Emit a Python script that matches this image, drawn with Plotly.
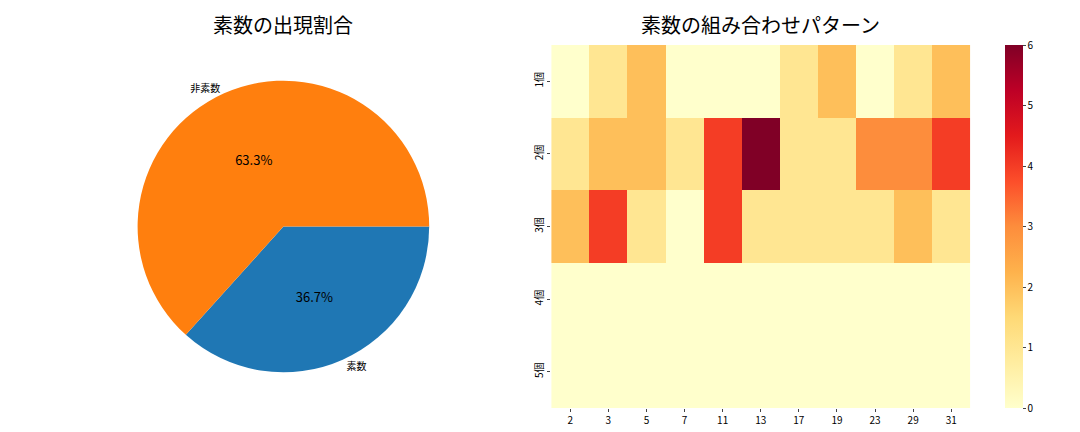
import plotly.graph_objects as go

pie_labels = ["素数", "非素数"]
pie_values = [11, 19]
cols = ["2", "3", "5", "7", "11", "13", "17", "19", "23", "29", "31"]
rows = ["1個", "2個", "3個", "4個", "5個"]
z = [
    [0, 1, 2, 0, 0, 0, 1, 2, 0, 1, 2],
    [1, 2, 2, 1, 4, 6, 1, 1, 3, 3, 4],
    [2, 4, 1, 0, 4, 1, 1, 1, 1, 2, 1],
    [0, 0, 0, 0, 0, 0, 0, 0, 0, 0, 0],
    [0, 0, 0, 0, 0, 0, 0, 0, 0, 0, 0],
]
F = "Noto Sans CJK JP"
colors = ["#1f77b4", "#ff7f0e"]
dom = dict(x=[0.12, 0.39], y=[0.05, 0.95])
fig = go.Figure()
fig.add_trace(go.Pie(labels=pie_labels, values=pie_values, sort=False, direction="clockwise",
                     rotation=90, marker=dict(colors=colors), textinfo="percent", texttemplate="%{percent:.1%}",
                     textposition="inside", insidetextfont=dict(size=13, color="black"),
                     domain=dom, showlegend=False, hoverinfo="skip"))
fig.add_trace(go.Pie(labels=pie_labels, values=pie_values, sort=False, direction="clockwise",
                     rotation=90, marker=dict(colors=["rgba(0,0,0,0)"] * 2), textinfo="label",
                     textposition="outside", outsidetextfont=dict(size=10, color="black"),
                     domain=dom, showlegend=False, hoverinfo="skip"))
fig.add_trace(go.Heatmap(z=z, x=cols, y=rows, colorscale="YlOrRd", zmin=0, zmax=6,
                         colorbar=dict(x=0.914, xanchor="left", thickness=18, len=1, y=0.5, ypad=0, outlinewidth=0,
                                       tickvals=[0, 1, 2, 3, 4, 5, 6], tickfont=dict(size=10), ticks="outside", ticklen=3)))
fig.update_layout(
    width=1080, height=432, paper_bgcolor="white", plot_bgcolor="white", font=dict(family=F, color="black"),
    margin=dict(l=0, r=0, t=37, b=32),
    xaxis=dict(domain=[0.503, 0.891], tickfont=dict(size=10), ticks="outside", ticklen=3, showgrid=False),
    yaxis=dict(autorange="reversed", tickangle=-90, tickfont=dict(size=10), ticks="outside", ticklen=3, showgrid=False),
    annotations=[
        dict(text="素数の出現割合", x=0.255, y=1.01, xref="paper", yref="paper", xanchor="center", showarrow=False, yanchor="bottom", font=dict(size=20)),
        dict(text="素数の組み合わせパターン", x=0.697, y=1.01, xref="paper", yref="paper", xanchor="center", showarrow=False, yanchor="bottom", font=dict(size=20)),
    ],
)
fig.write_html("out.html")
